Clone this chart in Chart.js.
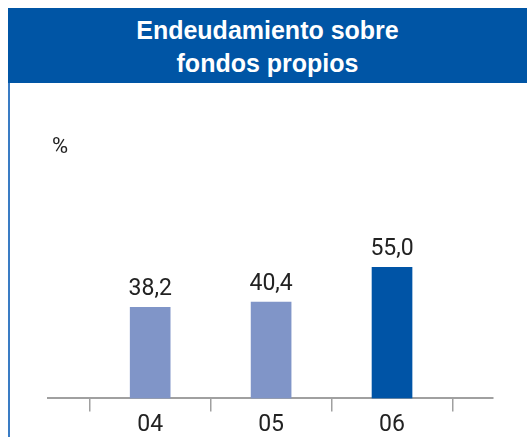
<!DOCTYPE html>
<html>
<head>
<meta charset="utf-8">
<script src="https://cdn.jsdelivr.net/npm/chart.js@4"></script>
<style>
  html, body { margin: 0; padding: 0; background: #fff; }
  body { width: 527px; height: 437px; overflow: hidden; position: relative; }
  #frame { position: absolute; left: 8px; top: 8px; width: 519px; height: 429px;
           border-left: 2px solid #3a7cc4; box-sizing: border-box; }
  #header { position: absolute; left: 8px; top: 8px; width: 519px; height: 75px;
            background: #0055a5; color: #fff; text-align: center;
            font: bold 25px "Liberation Sans", Arial, sans-serif; line-height: 33px;
            padding-top: 6px; box-sizing: border-box; }
  #unit { position: absolute; left: 52px; top: 135px; color: #222;
          font: 22px Roboto, sans-serif; line-height: 22px; }
  #wrap { position: absolute; left: 0; top: 0; width: 527px; height: 470px; }
</style>
</head>
<body>
<div id="frame"></div>
<div id="wrap"><canvas id="chart"></canvas></div>
<div id="header">Endeudamiento sobre<br>fondos propios</div>
<div id="unit">%</div>
<script>
// chart data
const years = ['04', '05', '06'];
const values = [38.2, 40.4, 55.0];

const lightBar = '#8095c8';
const darkBar = '#0054a6';
const axisGrey = '#a0a0a0';
const numFont = 'Roboto, sans-serif';

// value labels above the bars, decimal comma
const valueLabels = {
    id: 'valueLabels',
    afterDatasetsDraw(chart) {
        const ctx = chart.ctx;
        const meta = chart.getDatasetMeta(0);
        ctx.save();
        ctx.fillStyle = '#222';
        ctx.font = '23px ' + numFont;
        ctx.textAlign = 'center';
        ctx.textBaseline = 'alphabetic';
        meta.data.forEach(function(bar, i) {
            ctx.fillText(values[i].toFixed(1).replace('.', ','), bar.x, bar.y - 12);
        });
        ctx.restore();
    }
};

new Chart(document.getElementById('chart'), {
    type: 'bar',
    data: {
        datasets: [{
            data: years.map(function(y, i) { return { x: i + 1, y: values[i] }; }),
            backgroundColor: function(c) {
                return c.dataIndex === years.length - 1 ? darkBar : lightBar;
            },
            barThickness: 40
        }]
    },
    options: {
        responsive: true,
        maintainAspectRatio: false,
        animation: false,
        layout: { padding: { left: 48, right: 34, top: 160, bottom: 31 } },
        plugins: {
            legend: { display: false },
            tooltip: { enabled: false }
        },
        scales: {
            x: {
                type: 'linear',
                min: 0.155,
                max: 3.835,
                offset: false,
                afterBuildTicks: function(scale) {
                    const t = [];
                    for (let v = 0.5; v <= years.length + 0.5; v += 0.5) t.push({ value: v });
                    scale.ticks = t;
                },
                grid: {
                    offset: false,
                    drawOnChartArea: false,
                    tickLength: 13,
                    lineWidth: 1.5,
                    color: function(c) {
                        return c.tick && Number.isInteger(c.tick.value) ? 'transparent' : axisGrey;
                    }
                },
                border: { display: true, color: axisGrey, width: 2 },
                ticks: {
                    autoSkip: false,
                    maxRotation: 0,
                    padding: 0,
                    color: '#222',
                    font: { family: numFont, size: 23 },
                    callback: function(v) {
                        return Number.isInteger(v) ? years[v - 1] : '';
                    }
                }
            },
            y: {
                display: false,
                min: 0,
                max: 100
            }
        }
    },
    plugins: [valueLabels]
});
</script>
</body>
</html>
